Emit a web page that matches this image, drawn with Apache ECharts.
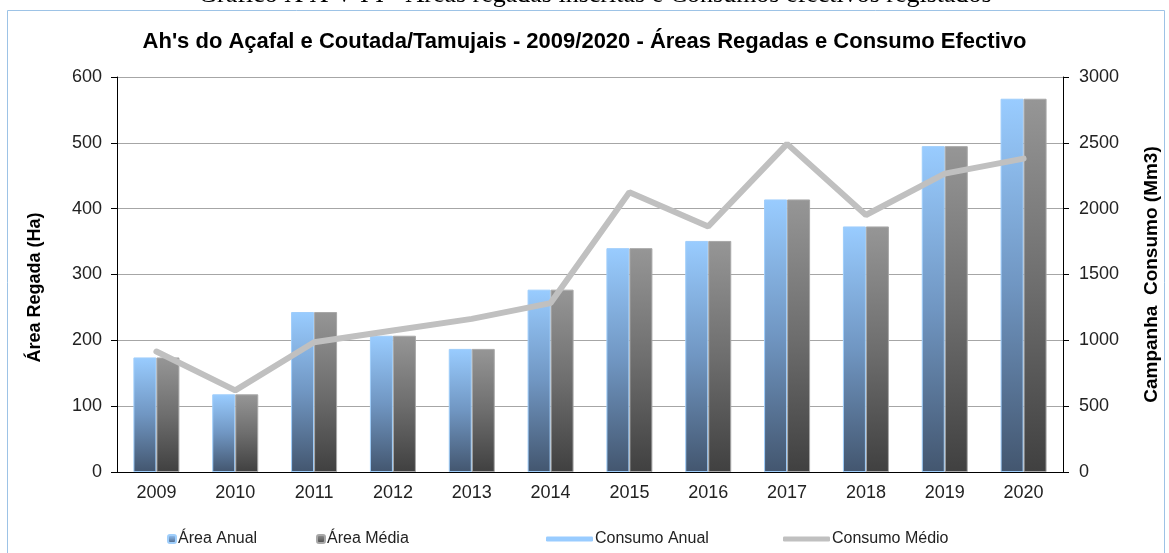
<!DOCTYPE html>
<html>
<head>
<meta charset="utf-8">
<script src="https://cdn.jsdelivr.net/npm/echarts@6/dist/echarts.min.js"></script>
<style>
  html, body { margin: 0; padding: 0; background: #fff; }
  #chart { width: 1169px; height: 553px; }
</style>
</head>
<body>
<div id="chart"></div>
<script>
// dados
var anos = ['2009', '2010', '2011', '2012', '2013', '2014', '2015', '2016', '2017', '2018', '2019', '2020'];
var areaAnual = [174, 118, 243, 207, 187, 277, 340, 351, 414, 373, 495, 567];
var areaMedia = [174, 118, 243, 207, 187, 277, 340, 351, 414, 373, 495, 567];
var consumoAnual = [915, 620, 985, 1075, 1163, 1283, 2125, 1865, 2492, 1952, 2266, 2380];
var consumoMedio = [915, 620, 985, 1075, 1163, 1283, 2125, 1865, 2492, 1952, 2266, 2380];

var chart = echarts.init(document.getElementById('chart'));

var gradAzul = new echarts.graphic.LinearGradient(0, 0, 0, 1, [
  { offset: 0, color: '#99ccff' },
  { offset: 0.5, color: '#7096c2' },
  { offset: 1, color: '#43566f' }
]);
var gradCinza = new echarts.graphic.LinearGradient(0, 0, 0, 1, [
  { offset: 0, color: '#969696' },
  { offset: 0.5, color: '#6e6e6e' },
  { offset: 1, color: '#404040' }
]);

var fonte = 'Liberation Sans, Arial, sans-serif';
var legendaTexto = { fontSize: 16, color: '#222', padding: [0, 0, 0, -3] };

chart.setOption({
  animation: false,
  textStyle: { fontFamily: fonte },
  graphic: [
    {
      type: 'rect',
      shape: { x: 7.5, y: 10.5, width: 1157, height: 560 },
      style: { fill: 'none', stroke: '#9dc3e6', lineWidth: 1 },
      silent: true
    },
    {
      type: 'text',
      x: 595, y: 8,
      style: {
        text: 'Gráfico X X V I I - Áreas regadas inscritas e Consumos efectivos registados',
        fontFamily: 'Liberation Serif, serif',
        fontSize: 26,
        fill: '#000',
        align: 'center',
        verticalAlign: 'bottom'
      },
      z: 10
    }
  ],
  title: {
    text: "Ah's do Açafal e Coutada/Tamujais - 2009/2020 - Áreas Regadas e Consumo Efectivo",
    left: 'center',
    top: 31,
    padding: 0,
    textStyle: { fontFamily: fonte, fontSize: 22, fontWeight: 'bold', color: '#000' }
  },
  grid: { left: 117, right: 106, top: 77, bottom: 81 },
  legend: [
    { data: ['Área Anual'], left: 167, top: 531, padding: 0, itemWidth: 8, itemHeight: 8, textStyle: legendaTexto },
    { data: ['Área Média'], left: 316, top: 531, padding: 0, itemWidth: 8, itemHeight: 8, textStyle: legendaTexto },
    { data: ['Consumo Anual'], left: 546, top: 531, padding: 0, icon: 'roundRect', itemWidth: 47, itemHeight: 5, textStyle: legendaTexto },
    { data: ['Consumo Médio'], left: 783, top: 531, padding: 0, icon: 'roundRect', itemWidth: 47, itemHeight: 5, textStyle: legendaTexto }
  ],
  xAxis: {
    type: 'category',
    data: anos,
    axisLine: { lineStyle: { color: '#000', width: 1 } },
    axisTick: { length: 6, lineStyle: { color: '#000' } },
    axisLabel: { fontSize: 18, color: '#222', margin: 12 }
  },
  yAxis: [
    {
      type: 'value',
      min: 0, max: 600, interval: 100,
      name: 'Área Regada (Ha)',
      nameLocation: 'middle',
      nameGap: 73,
      nameRotate: 90,
      nameTextStyle: { fontSize: 18, fontWeight: 'bold', color: '#000', padding: [0, 0, 0, -26] },
      axisLine: { show: true, lineStyle: { color: '#000' } },
      axisTick: { show: true, length: 6, lineStyle: { color: '#000' } },
      axisLabel: { fontSize: 18, color: '#222', margin: 15 },
      splitLine: { lineStyle: { color: '#a6a6a6', width: 1 } }
    },
    {
      type: 'value',
      min: 0, max: 3000, interval: 500,
      name: 'Campanha  Consumo (Mm3)',
      nameLocation: 'middle',
      nameGap: 79,
      nameRotate: 90,
      nameTextStyle: { fontSize: 19, fontWeight: 'bold', color: '#000' },
      axisLine: { show: true, lineStyle: { color: '#000' } },
      axisTick: { show: true, length: 6, lineStyle: { color: '#000' } },
      axisLabel: { fontSize: 18, color: '#222', margin: 16, formatter: function (v) { return String(v); } },
      splitLine: { show: false }
    }
  ],
  series: [
    {
      name: 'Área Anual',
      type: 'bar',
      data: areaAnual,
      barWidth: 23,
      barGap: '0%',
      itemStyle: { color: gradAzul, borderColor: '#9fcefb', borderWidth: 1 }
    },
    {
      name: 'Área Média',
      type: 'bar',
      data: areaMedia,
      barWidth: 23,
      barGap: '0%',
      itemStyle: { color: gradCinza, borderColor: '#a8a8a8', borderWidth: 1 }
    },
    {
      name: 'Consumo Anual',
      type: 'line',
      yAxisIndex: 1,
      data: consumoAnual,
      symbol: 'none',
      lineStyle: { color: '#99ccff', width: 4, cap: 'round' },
      itemStyle: { color: '#99ccff' }
    },
    {
      name: 'Consumo Médio',
      type: 'line',
      yAxisIndex: 1,
      data: consumoMedio,
      symbol: 'none',
      lineStyle: { color: '#c0c0c0', width: 6, cap: 'round' },
      itemStyle: { color: '#c0c0c0' }
    }
  ]
});
</script>
</body>
</html>
